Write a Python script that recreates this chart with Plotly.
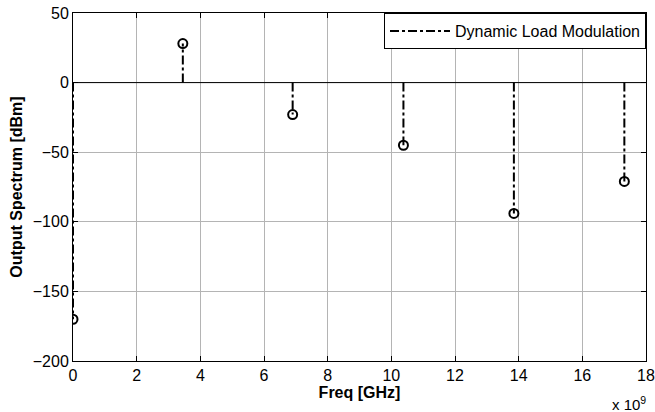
import plotly.graph_objects as go

freq_hz = [0.0, 3.45e9, 6.9e9, 10.38e9, 13.85e9, 17.32e9]
spectrum_dbm = [-170, 28, -23, -45, -94, -71]
series_name = "Dynamic Load Modulation"
x_tickvals = [0, 2e9, 4e9, 6e9, 8e9, 10e9, 12e9, 14e9, 16e9, 18e9]
x_ticktext = ["0", "2", "4", "6", "8", "10", "12", "14", "16", "18"]
y_tickvals = [-200, -150, -100, -50, 0, 50]

stem_x, stem_y = [], []
for f, v in zip(freq_hz, spectrum_dbm):
    stem_x += [f, f, None]
    stem_y += [0, v, None]

font = "Liberation Sans, Arial, sans-serif"
fig = go.Figure()
# baseline
fig.add_trace(go.Scatter(x=[0, 18e9], y=[0, 0], mode="lines",
                         line=dict(color="black", width=1), showlegend=False, hoverinfo="skip"))
fig.add_trace(go.Scatter(x=stem_x, y=stem_y, mode="lines", name=series_name,
                         line=dict(color="black", width=2, dash="dashdot")))
fig.add_trace(go.Scatter(x=freq_hz, y=spectrum_dbm, mode="markers", showlegend=False,
                         marker=dict(symbol="circle-open", size=9, color="black",
                                     line=dict(color="black", width=2))))

axis_common = dict(showline=True, linecolor="black", linewidth=1, mirror="ticks",
                   ticks="inside", ticklen=5, tickcolor="black", automargin=False,
                   showgrid=True, gridcolor="#b4b4b4", gridwidth=1, zeroline=False,
                   ticklabeloverflow="allow",
                   tickfont=dict(family=font, size=16, color="black"))
fig.update_xaxes(range=[0, 18e9], tickvals=x_tickvals, ticktext=x_ticktext,
                 title=dict(text="<b>Freq [GHz]</b>", font=dict(family=font, size=16, color="black"),
                            standoff=2),
                 **axis_common)
fig.update_yaxes(range=[-200, 50], tickvals=y_tickvals,
                 title=dict(text="<b>Output Spectrum [dBm]</b>", font=dict(family=font, size=16, color="black"),
                            standoff=6),
                 **axis_common)

fig.add_annotation(text="x 10<sup>9</sup>", xref="paper", yref="paper", x=1.003, y=-0.089,
                   xanchor="right", yanchor="top", showarrow=False,
                   font=dict(family=font, size=15, color="black"))

fig.update_layout(width=655, height=412, margin=dict(l=73, r=9, t=13, b=51, autoexpand=False),
                  paper_bgcolor="white", plot_bgcolor="white",
                  legend=dict(x=1, y=1, xanchor="right", yanchor="top",
                              bordercolor="black", borderwidth=1, bgcolor="white",
                              font=dict(family=font, size=16, color="black"),
                              tracegroupgap=0, itemwidth=60),
                  font=dict(family=font))
# remove the default 8px page margin so the figure sits at the window's corner
fig.write_html("out.html", config={"displayModeBar": False},
               post_script="document.body.style.margin='0';")
